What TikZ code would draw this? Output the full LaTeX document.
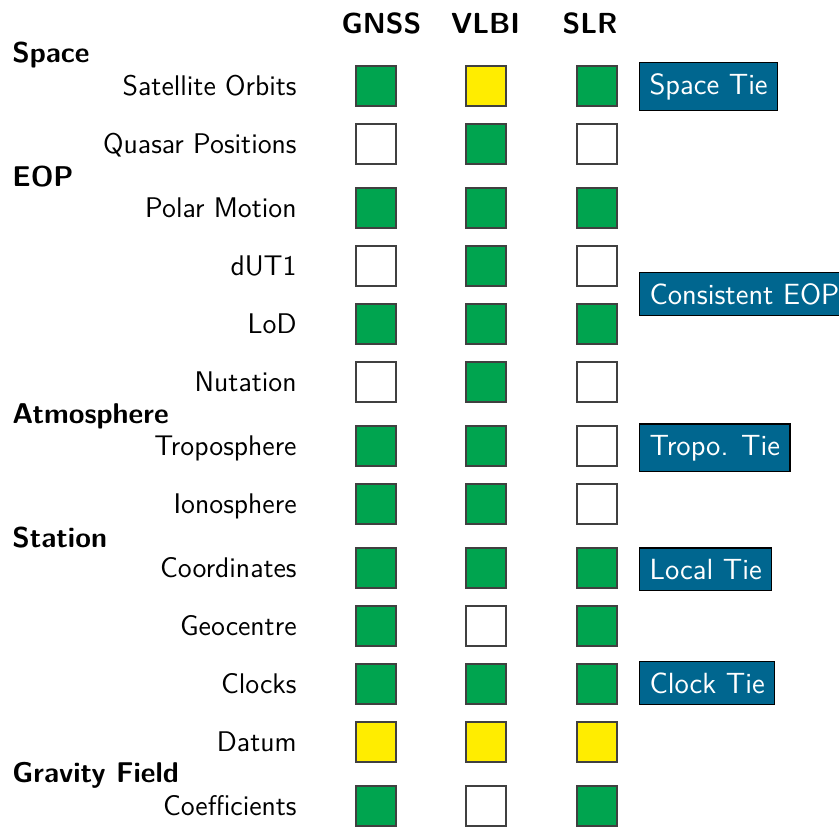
\documentclass[tikz,border=0pt]{standalone}
\usepackage{fontspec}
\definecolor{okgreen}{HTML}{00A44F}
\definecolor{partyellow}{HTML}{FFED00}
\definecolor{tieblue}{HTML}{00668F}
\begin{document}
\begin{tikzpicture}[x=0.5pt,y=-0.5pt,
  every node/.style={font=\sffamily\fontsize{14.2}{16}\selectfont},
  cell/.style={draw=black!75, line width=0.6pt, minimum size=20pt, inner sep=0pt},
  rowlabel/.style={anchor=base east, inner sep=0pt},
  grouphead/.style={anchor=base west, inner sep=0pt, font=\sffamily\bfseries\fontsize{14.3}{16}\selectfont},
  colhead/.style={anchor=base, inner sep=0pt, font=\sffamily\bfseries\fontsize{14.5}{16}\selectfont},
  tiebox/.style={anchor=base west, fill=tieblue, draw=black, line width=0.6pt, text=white,
    inner xsep=5pt, inner ysep=5.4pt, font=\sffamily\fontsize{14.6}{17}\selectfont}]
\useasboundingbox (0,0) rectangle (839,827);
% column headers
\node[colhead] (hG) at (381.5,33) {GNSS};
\node[colhead] (hV) at (485.5,33) {VLBI};
\node[colhead] (hS) at (590,33) {SLR};
% group headers
\node[grouphead] (grSpace) at (12,62) {Space};
\node[grouphead] (grEOP) at (12,186) {EOP};
\node[grouphead] (grAtm) at (12,423) {Atmosphere};
\node[grouphead] (grSta) at (12,547) {Station};
\node[grouphead] (grGrav) at (12,782) {Gravity Field};
% rows
\foreach \i/\lab/\y/\a/\b/\c in {
  1/Satellite Orbits/86/okgreen/partyellow/okgreen,
  2/Quasar Positions/144/white/okgreen/white,
  3/Polar Motion/208/okgreen/okgreen/okgreen,
  4/dUT1/266/white/okgreen/white,
  5/LoD/324/okgreen/okgreen/okgreen,
  6/Nutation/382/white/okgreen/white,
  7/Troposphere/446/okgreen/okgreen/white,
  8/Ionosphere/504/okgreen/okgreen/white,
  9/Coordinates/568/okgreen/okgreen/okgreen,
  10/Geocentre/626/okgreen/white/okgreen,
  11/Clocks/684/okgreen/okgreen/okgreen,
  12/Datum/742/partyellow/partyellow/partyellow,
  13/Coefficients/806/okgreen/white/okgreen} {
  \node[rowlabel] (lab\i) at (297,\y+9.5) {\lab};
  \node[cell, fill=\a] (g\i) at (376,\y) {};
  \node[cell, fill=\b] (v\i) at (486,\y) {};
  \node[cell, fill=\c] (s\i) at (597,\y) {};
}
% tie boxes
\node[tiebox] (tSpace) at (639,94) {Space Tie};
\node[tiebox] (tEOP) at (639,304) {Consistent EOP};
\node[tiebox] (tTropo) at (639,455) {Tropo. Tie};
\node[tiebox] (tLocal) at (639,579) {Local Tie};
\node[tiebox] (tClock) at (639,693) {Clock Tie};
\end{tikzpicture}
\end{document}
